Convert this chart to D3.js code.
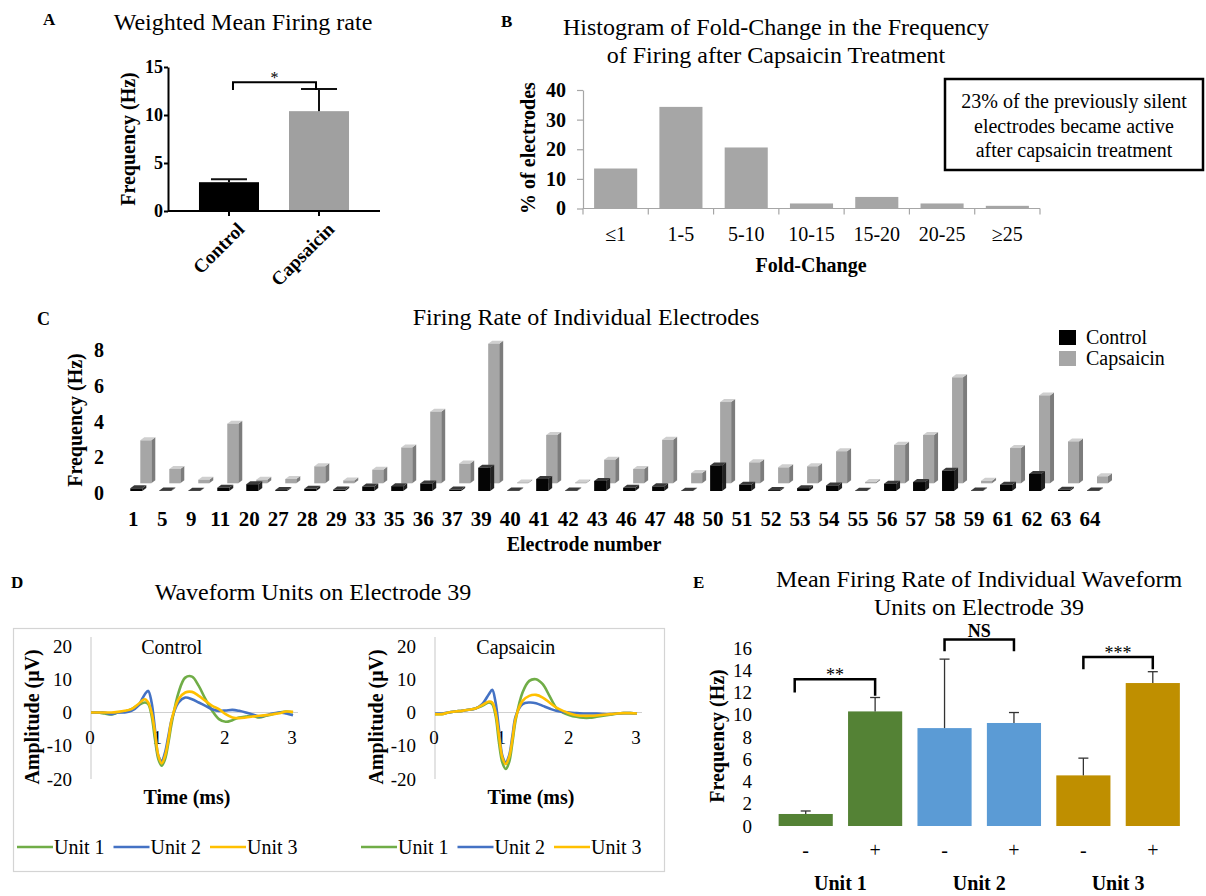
<!DOCTYPE html>
<html>
<head>
<meta charset="utf-8">
<script src="https://cdn.jsdelivr.net/npm/d3@7"></script>
<style>
  body { margin: 0; background: #fff; }
  svg { display: block; }
  text { font-family: "Liberation Serif", "Times New Roman", serif; }
</style>
</head>
<body>
<div id="chart"></div>
<script>
// ---- data ----

// A: weighted mean firing rate
var aGroups = ['Control', 'Capsaicin'];
var aMean = [3.0, 10.4];
var aSem = [0.3, 2.3];
var aTicks = [0, 5, 10, 15];

// B: histogram of fold-change
var bBins = ['≤1', '1-5', '5-10', '10-15', '15-20', '20-25', '≥25'];
var bPercent = [13.5, 34.3, 20.6, 1.7, 3.9, 1.7, 0.9];
var bTicks = [0, 10, 20, 30, 40];
var bNote = ['23% of the previously silent', 'electrodes became active', 'after capsaicin treatment'];

// C: firing rate of individual electrodes
var cElectrodes = ['1','5','9','11','20','27','28','29','33','35','36','37','39','40','41','42','43',
                   '46','47','48','50','51','52','53','54','55','56','57','58','59','61','62','63','64'];
var cControl = [0.15,0.03,0.02,0.18,0.38,0.05,0.12,0.08,0.25,0.27,0.42,0.08,1.3,0.03,0.67,0.03,0.56,
                0.18,0.26,0.02,1.43,0.35,0.05,0.16,0.31,0.02,0.41,0.5,1.13,0.03,0.35,0.95,0.07,0.03];
var cCapsaicin = [2.4,0.8,0.2,3.33,0.2,0.24,0.95,0.16,0.76,2.0,4.0,1.1,7.8,0.05,2.7,0.05,1.32,
                  0.8,2.43,0.57,4.54,1.17,0.89,0.95,1.79,0.07,2.15,2.7,5.92,0.14,1.97,4.91,2.34,0.39];
var cTicks = [0, 2, 4, 6, 8];
var cSeries = ['Control', 'Capsaicin'];

// D: waveform units on electrode 39 (ms, uV)
var dTime = [0,0.1,0.2,0.3,0.4,0.5,0.6,0.7,0.8,0.85,0.9,0.95,1.0,1.05,1.1,1.15,1.2,
             1.3,1.4,1.5,1.6,1.7,1.8,1.9,2.0,2.1,2.2,2.3,2.4,2.5,2.6,2.7,2.8,2.9,3.0];
var dCtrlUnit1 = [0,0,-0.3,-0.6,0,0.3,1,2.2,3,2.5,-1,-8,-14,-16,-14,-9,-3,
                  6,10.5,10.8,8,4,0.5,-2,-2.8,-2.3,-1.5,-1.2,-1,-1.5,-1,-0.5,0,0.3,0];
var dCtrlUnit2 = [0,0,0,-0.5,0,0,0.5,2,5.5,6.5,3,-5,-13,-14.5,-12,-7,-2,
                  3,4.5,4,3,2,1,0.5,0.6,0.8,0.5,0,-0.6,-1.2,-0.8,-0.3,0,-0.3,-0.8];
var dCtrlUnit3 = [0,0,0,0,0.2,0.5,1,2.5,4,3,0,-6,-13,-15.3,-13,-8,-2,
                  4,6,6.2,5,3.5,2,1,-0.5,-1.5,-1.7,-1.5,-1.2,-1,-0.8,-0.5,-0.2,0.3,0.2];
var dCapsUnit1 = [-0.5,-0.5,0,0.3,0.5,0.8,1.2,2,3,2.5,-1,-9,-15,-17,-15,-9,-2,
                  6,9.5,10,8.5,5,1.5,0,-0.8,-1.3,-1.6,-1.6,-1.3,-1,-0.7,-0.4,-0.2,-0.2,-0.3];
var dCapsUnit2 = [-0.3,-0.3,0,0.3,0.5,0.8,1.2,2.5,5.5,6.8,3,-5,-13,-15,-13,-7,-1,
                  2.5,3,2.8,2,1.2,0.5,0.2,0,-0.2,-0.3,-0.3,-0.3,-0.5,-0.5,-0.3,-0.2,-0.2,-0.3];
var dCapsUnit3 = [-0.5,-0.5,0,0.3,0.5,0.8,1.2,2.2,3.3,3,0,-7,-13.5,-15.5,-13.5,-8,-1.5,
                  3.5,5,5.3,4.5,3,1.5,0.5,-0.3,-0.8,-1,-1,-0.9,-0.7,-0.5,-0.3,-0.2,-0.2,-0.3];
var dUnits = ['Unit 1', 'Unit 2', 'Unit 3'];
var dTicksY = [-20, -10, 0, 10, 20];
var dTicksX = [0, 1, 2, 3];

// E: mean firing rate of waveform units (order: unit1 -, unit1 +, unit2 -, ...)
var eUnits = ['Unit 1', 'Unit 2', 'Unit 3'];
var eConds = ['-', '+'];
var eMean = [1.08, 10.3, 8.8, 9.26, 4.55, 12.85];
var eSem = [0.27, 1.25, 6.2, 0.94, 1.55, 1.02];
var eTicks = [0, 2, 4, 6, 8, 10, 12, 14, 16];
var eSig = ['**', 'NS', '***'];
var eSigLevel = [13.2, 16.76, 15.2];   // bracket height (Hz)
var eSigLegs = [[12.0, 11.7], [15.7, 15.7], [14.1, 14.1]];

// ---- drawing ----
var svg = d3.select('#chart').append('svg')
  .attr('width', 1206).attr('height', 896);
svg.append('rect').attr('width', 1206).attr('height', 896).attr('fill', '#fff');

function label(g, str, x, y, size, bold, anchor) {
  return g.append('text').attr('x', x).attr('y', y)
    .attr('text-anchor', anchor || 'middle')
    .style('font-size', size + 'px')
    .style('font-weight', bold ? 700 : 400)
    .text(str);
}
function vlabel(g, str, x, y, size) {
  return g.append('text')
    .attr('transform', 'translate(' + x + ',' + y + ') rotate(-90)')
    .attr('text-anchor', 'middle').attr('dy', '0.35em')
    .style('font-size', size + 'px').style('font-weight', 700)
    .text(str);
}
function styleAxis(g, size, weight, stroke, sw) {
  g.attr('font-family', null).attr('font-size', null);
  g.selectAll('text').style('font-size', size + 'px').style('font-weight', weight).attr('fill', '#000');
  g.selectAll('line,path').attr('stroke', stroke).attr('stroke-width', sw);
}

// ===== Panel A =====
var gA = svg.append('g');
label(gA, 'A', 43, 25, 17, true, 'start');
label(gA, 'Weighted Mean Firing rate', 243, 30, 24, false);

var xA = d3.scaleBand().domain(aGroups).range([168, 380]).paddingInner(1 / 3).paddingOuter(0.344);
var yA = d3.scaleLinear().domain([0, 15]).range([211, 67]);

gA.selectAll('rect.bar').data(aGroups).join('rect')
  .attr('x', function(d) { return xA(d); })
  .attr('y', function(d, i) { return yA(aMean[i]); })
  .attr('width', xA.bandwidth())
  .attr('height', function(d, i) { return yA(0) - yA(aMean[i]); })
  .attr('fill', function(d, i) { return i ? '#a0a0a0' : '#000'; });

aGroups.forEach(function(d, i) {
  var cx = xA(d) + xA.bandwidth() / 2;
  gA.append('line').attr('x1', cx).attr('x2', cx)
    .attr('y1', yA(aMean[i])).attr('y2', yA(aMean[i] + aSem[i]))
    .attr('stroke', '#111').attr('stroke-width', 2);
  gA.append('line').attr('x1', cx - 18).attr('x2', cx + 18)
    .attr('y1', yA(aMean[i] + aSem[i])).attr('y2', yA(aMean[i] + aSem[i]))
    .attr('stroke', '#111').attr('stroke-width', 2);
});

var axA = gA.append('g').attr('transform', 'translate(168,0)')
  .call(d3.axisLeft(yA).tickValues(aTicks).tickSize(4).tickSizeOuter(0).tickPadding(1));
styleAxis(axA, 18, 700, '#000', 2);

gA.append('line').attr('x1', 168).attr('x2', 380).attr('y1', yA(0)).attr('y2', yA(0))
  .attr('stroke', '#000').attr('stroke-width', 2);
aGroups.forEach(function(d) {
  var cx = xA(d) + xA.bandwidth() / 2;
  gA.append('line').attr('x1', cx).attr('x2', cx).attr('y1', yA(0)).attr('y2', yA(0) + 5)
    .attr('stroke', '#000').attr('stroke-width', 2);
  gA.append('text')
    .attr('transform', 'translate(' + (cx + 7) + ',' + (yA(0) + 10) + ') rotate(-45)')
    .attr('text-anchor', 'end').attr('dy', '0.7em')
    .style('font-size', '19px').style('font-weight', 700).text(d);
});
vlabel(gA, 'Frequency (Hz)', 128, 139, 20);

// significance bracket
var aL = xA(aGroups[0]) + xA.bandwidth() / 2 + 4, aR = xA(aGroups[1]) + xA.bandwidth() / 2 - 3;
gA.append('path')
  .attr('d', 'M' + aL + ',' + yA(12.6) + 'V' + yA(13.4) + 'H' + aR + 'V' + yA(12.6))
  .attr('fill', 'none').attr('stroke', '#000').attr('stroke-width', 2);
label(gA, '*', (aL + aR) / 2, yA(13.4) + 1, 16, false);

// ===== Panel B =====
var gB = svg.append('g');
label(gB, 'B', 501, 27, 17, true, 'start');
label(gB, 'Histogram of Fold-Change in the Frequency', 776, 35, 24, false);
label(gB, 'of Firing after Capsaicin Treatment', 776, 63, 24, false);

var xB = d3.scaleBand().domain(bBins).range([583, 1040]).paddingInner(0.34).paddingOuter(0.17);
var yB = d3.scaleLinear().domain([0, 40]).range([208.5, 90]);

gB.selectAll('rect').data(bBins).join('rect')
  .attr('x', function(d) { return xB(d); })
  .attr('y', function(d, i) { return yB(bPercent[i]); })
  .attr('width', xB.bandwidth())
  .attr('height', function(d, i) { return yB(0) - yB(bPercent[i]); })
  .attr('fill', '#a6a6a6');

var axB = gB.append('g').attr('transform', 'translate(583,0)')
  .call(d3.axisLeft(yB).tickValues(bTicks).tickSize(6).tickSizeOuter(0).tickPadding(11));
styleAxis(axB, 20, 700, '#a6a6a6', 1.2);

gB.append('line').attr('x1', 583).attr('x2', 1040).attr('y1', yB(0)).attr('y2', yB(0))
  .attr('stroke', '#a6a6a6').attr('stroke-width', 1.2);
d3.range(bBins.length + 1).forEach(function(i) {
  var tx = 583 + i * xB.step();
  gB.append('line').attr('x1', tx).attr('x2', tx).attr('y1', yB(0)).attr('y2', yB(0) + 6)
    .attr('stroke', '#a6a6a6').attr('stroke-width', 1.2);
});
bBins.forEach(function(d) {
  label(gB, d, xB(d) + xB.bandwidth() / 2, 241, 20, false);
});
label(gB, 'Fold-Change', 811, 272, 20, true);
vlabel(gB, '% of electrodes', 528, 148, 20);

gB.append('rect').attr('x', 945).attr('y', 79).attr('width', 258).attr('height', 91)
  .attr('fill', 'none').attr('stroke', '#000').attr('stroke-width', 2.5);
bNote.forEach(function(s, i) {
  label(gB, s, 1074, 108 + i * 24.5, 20, false);
});

// ===== Panel C =====
var gC = svg.append('g');
label(gC, 'C', 37, 325, 18, true, 'start');
label(gC, 'Firing Rate of Individual Electrodes', 586, 325, 24, false);

var xC = d3.scaleBand().domain(cElectrodes).range([118.8, 1104.5]);
var yCfront = d3.scaleLinear().domain([0, 8]).range([491, 347.8]);
var yCback = d3.scaleLinear().domain([0, 8]).range([483.3, 340.1]);
var yClab = d3.scaleLinear().domain([0, 8]).range([493.3, 350]);
var depthX = 4, depthY = 3;

function bars3d(g, values, yScale, offset, w, fills) {
  var rows = cElectrodes.map(function(e, i) {
    var x0 = xC(e) + xC.bandwidth() / 2 + offset;
    return { x0: x0, yt: yScale(values[i]), yb: yScale(0) };
  });
  g.selectAll(null).data(rows).join('path')
    .attr('d', function(r) {
      return 'M' + (r.x0 + w) + ',' + r.yt + 'L' + (r.x0 + w + depthX) + ',' + (r.yt - depthY) +
        'L' + (r.x0 + w + depthX) + ',' + (r.yb - depthY) + 'L' + (r.x0 + w) + ',' + r.yb + 'Z';
    })
    .attr('fill', fills[2]);
  g.selectAll(null).data(rows).join('path')
    .attr('d', function(r) {
      return 'M' + r.x0 + ',' + r.yt + 'L' + (r.x0 + depthX) + ',' + (r.yt - depthY) +
        'L' + (r.x0 + w + depthX) + ',' + (r.yt - depthY) + 'L' + (r.x0 + w) + ',' + r.yt + 'Z';
    })
    .attr('fill', fills[1]);
  g.selectAll(null).data(rows).join('rect')
    .attr('x', function(r) { return r.x0; })
    .attr('y', function(r) { return r.yt; })
    .attr('width', w)
    .attr('height', function(r) { return r.yb - r.yt; })
    .attr('fill', fills[0]);
}
bars3d(gC.append('g'), cCapsaicin, yCback, 7, 11, ['#a6a6a6', '#cfcfcf', '#7c7c7c']);
bars3d(gC.append('g'), cControl, yCfront, -3, 12, ['#050505', '#3a3a3a', '#222']);

var axC = gC.append('g').attr('transform', 'translate(104,0)')
  .call(d3.axisLeft(yClab).tickValues(cTicks).tickSize(0).tickPadding(0));
axC.select('.domain').remove();
styleAxis(axC, 20, 700, 'none', 0);

cElectrodes.forEach(function(e) {
  label(gC, e, xC(e) + xC.bandwidth() / 2, 526, 21, true);
});
label(gC, 'Electrode number', 584, 551, 20, true);
vlabel(gC, 'Frequency (Hz)', 75, 420, 20);

var cColors = ['#000', '#a6a6a6'];
cSeries.forEach(function(s, i) {
  gC.append('rect').attr('x', 1059).attr('y', 330 + i * 21).attr('width', 17).attr('height', 15)
    .attr('fill', cColors[i]);
  label(gC, s, 1086, 344 + i * 21, 20, false, 'start');
});

// ===== Panel D =====
var gD = svg.append('g');
label(gD, 'D', 11, 588, 17, true, 'start');
label(gD, 'Waveform Units on Electrode 39', 313, 600, 24, false);
gD.append('rect').attr('x', 13.5).attr('y', 628.5).attr('width', 651).attr('height', 243)
  .attr('fill', 'none').attr('stroke', '#d4d4d4').attr('stroke-width', 1.2);

var dColors = ['#70ad47', '#4472c4', '#ffc000'];
var yD = d3.scaleLinear().domain([-20, 20]).range([779, 646]);

function wavePanel(x0, name, series, legendX) {
  var g = gD.append('g');
  var xD = d3.scaleLinear().domain([0, 3]).range([x0, x0 + 202]);
  g.append('line').attr('x1', x0).attr('x2', x0).attr('y1', yD(22.7)).attr('y2', yD(-20))
    .attr('stroke', '#d0d0d0').attr('stroke-width', 1.2);
  g.append('line').attr('x1', x0).attr('x2', xD(3) + 5).attr('y1', yD(0)).attr('y2', yD(0))
    .attr('stroke', '#d0d0d0').attr('stroke-width', 1.2);
  var ax = g.append('g').attr('transform', 'translate(' + (x0 - 19) + ',0)')
    .call(d3.axisLeft(yD).tickValues(dTicksY).tickSize(0).tickPadding(0).tickFormat(d3.format('d')));
  ax.select('.domain').remove();
  styleAxis(ax, 19, 400, 'none', 0);
  ax.selectAll('text').text(function(d) { return String(d); });
  dTicksX.forEach(function(t) {
    label(g, t, xD(t) - 1, 744, 19, false);
  });
  var line = d3.line()
    .x(function(d, i) { return xD(dTime[i]); })
    .y(function(d) { return yD(d); })
    .curve(d3.curveCatmullRom);
  series.forEach(function(s, k) {
    g.append('path').datum(s).attr('d', line)
      .attr('fill', 'none').attr('stroke', dColors[k]).attr('stroke-width', 2.6)
      .attr('stroke-linejoin', 'round');
  });
  label(g, name, xD(1.2), 654, 20, false);
  label(g, 'Time (ms)', xD(1.5) - 5, 804, 20, true);
  vlabel(g, 'Amplitude (μV)', x0 - 59, 717, 20);
  dUnits.forEach(function(u, k) {
    var lx = legendX + k * 96.5;
    g.append('line').attr('x1', lx).attr('x2', lx + 36).attr('y1', 847).attr('y2', 847)
      .attr('stroke', dColors[k]).attr('stroke-width', 2.6);
    label(g, u, lx + 37, 854, 20, false, 'start');
  });
}
wavePanel(91, 'Control', [dCtrlUnit1, dCtrlUnit2, dCtrlUnit3], 17);
wavePanel(435, 'Capsaicin', [dCapsUnit1, dCapsUnit2, dCapsUnit3], 361);

// ===== Panel E =====
var gE = svg.append('g');
label(gE, 'E', 693, 588, 17, true, 'start');
label(gE, 'Mean Firing Rate of Individual Waveform', 979, 587, 24, false);
label(gE, 'Units on Electrode 39', 979, 615, 24, false);

var eKeys = [];
eUnits.forEach(function(u) { eConds.forEach(function(c) { eKeys.push(u + ' ' + c); }); });
var xE = d3.scaleBand().domain(eKeys).range([771, 1187.5]).paddingInner(0.22).paddingOuter(0.11);
var yE = d3.scaleLinear().domain([0, 16]).range([826, 648]);
var eColors = ['#548235', '#5b9bd5', '#bf8f00'];

gE.selectAll('rect').data(eKeys).join('rect')
  .attr('x', function(d) { return xE(d); })
  .attr('y', function(d, i) { return yE(eMean[i]); })
  .attr('width', xE.bandwidth())
  .attr('height', function(d, i) { return yE(0) - yE(eMean[i]); })
  .attr('fill', function(d, i) { return eColors[Math.floor(i / 2)]; });

eKeys.forEach(function(k, i) {
  var cx = xE(k) + xE.bandwidth() / 2;
  var top = yE(eMean[i] + eSem[i]);
  gE.append('line').attr('x1', cx).attr('x2', cx).attr('y1', yE(eMean[i])).attr('y2', top)
    .attr('stroke', '#333').attr('stroke-width', 1.3);
  gE.append('line').attr('x1', cx - 5).attr('x2', cx + 5).attr('y1', top).attr('y2', top)
    .attr('stroke', '#333').attr('stroke-width', 1.3);
  label(gE, eConds[i % 2], cx, 857, 20, false);
});
eUnits.forEach(function(u, j) {
  var a = xE(eKeys[2 * j]) + xE.bandwidth() / 2, b = xE(eKeys[2 * j + 1]) + xE.bandwidth() / 2;
  label(gE, u, (a + b) / 2, 890, 20, true);
  var left = j === 0 ? a - 11 : a;
  gE.append('path')
    .attr('d', 'M' + left + ',' + yE(eSigLegs[j][0]) + 'V' + yE(eSigLevel[j]) + 'H' + b + 'V' + yE(eSigLegs[j][1]))
    .attr('fill', 'none').attr('stroke', '#000').attr('stroke-width', 2.5);
  var isText = eSig[j] === 'NS';
  label(gE, eSig[j], (left + b) / 2, yE(eSigLevel[j]) + (isText ? -2.5 : 2), 18, isText);
});

var axE = gE.append('g').attr('transform', 'translate(752,0)')
  .call(d3.axisLeft(yE).tickValues(eTicks).tickSize(0).tickPadding(0));
axE.select('.domain').remove();
styleAxis(axE, 19, 400, 'none', 0);
vlabel(gE, 'Frequency (Hz)', 717, 736, 20);
</script>
</body>
</html>
